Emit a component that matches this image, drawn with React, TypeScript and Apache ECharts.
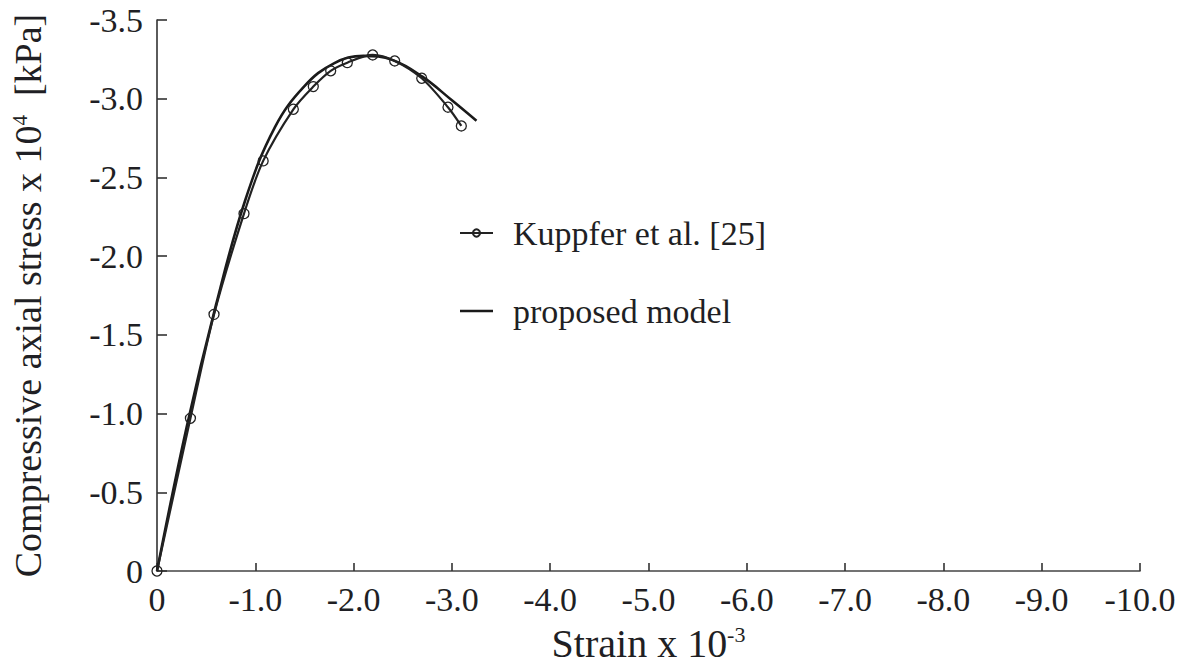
import React, { useEffect, useRef } from "react";
import * as echarts from "echarts";

// Kupfer et al. test data (strain x 10^-3, stress x 10^4 kPa)
const kupferStrain = [0, -0.34, -0.58, -0.885, -1.08, -1.387, -1.59, -1.767, -1.936, -2.194, -2.418, -2.693, -2.96, -3.096];
const kupferStress = [0, -0.97, -1.63, -2.27, -2.605, -2.933, -3.077, -3.177, -3.229, -3.278, -3.24, -3.13, -2.946, -2.827];

// Proposed model curve
const modelStrain = [0, -0.3, -0.6, -0.9, -1.2, -1.5, -1.8, -2.1, -2.4, -2.7, -3.0, -3.25];
const modelStress = [0, -0.91, -1.69, -2.36, -2.82, -3.08, -3.225, -3.272, -3.245, -3.14, -2.99, -2.86];

const xTicks = { min: -10, max: 0, step: 1 };
const yTicks = { min: -3.5, max: 0, step: 0.5 };

const FONT = "Liberation Serif";
const INK = "#1f1f24";
const LINE = "#222222";

export default function App() {
  const ref = useRef<HTMLDivElement>(null);

  useEffect(() => {
    if (!ref.current) return;
    const chart = echarts.init(ref.current, undefined, { renderer: "svg" });
    const fmt = (v: number) => (v === 0 ? "0" : v.toFixed(1));

    chart.setOption({
      animation: false,
      backgroundColor: "#ffffff",
      grid: {
        left: 157,
        right: 43,
        top: 20,
        bottom: 93,
        containLabel: false,
        outerBoundsMode: "none",
      },
      legend: {
        orient: "vertical",
        left: 454,
        top: 211,
        itemWidth: 33,
        itemHeight: 9,
        itemGap: 44,
        symbolKeepAspect: true,
        textStyle: { fontFamily: FONT, fontSize: 34, color: INK, padding: [0, 0, 0, 15] },
        data: [
          { name: "Kuppfer et al. [25]" },
          { name: "proposed model", icon: "path://M0,0 L33,0 L33,2.6 L0,2.6 Z" },
        ],
      },
      xAxis: {
        type: "value",
        min: xTicks.min,
        max: xTicks.max,
        interval: xTicks.step,
        inverse: true,
        name: "{a|Strain x 10}{s|-3}",
        nameLocation: "middle",
        nameGap: 52,
        nameTextStyle: {
          rich: {
            a: { fontFamily: FONT, fontSize: 40, color: INK },
            s: { fontFamily: FONT, fontSize: 22, color: INK, verticalAlign: "top", padding: [0, 0, 16, 0] },
          },
        },
        axisLine: { show: true, lineStyle: { color: "#444", width: 1.6 } },
        axisTick: { show: true, inside: true, length: 8, lineStyle: { color: "#333", width: 1.6 } },
        axisLabel: { formatter: fmt, fontFamily: FONT, fontSize: 34, color: INK, margin: 11 },
        splitLine: { show: false },
      },
      yAxis: {
        type: "value",
        min: yTicks.min,
        max: yTicks.max,
        interval: yTicks.step,
        inverse: true,
        name: "{a|Compressive axial stress x 10}{s|4}{a|  [kPa]}",
        nameLocation: "middle",
        nameGap: 110,
        nameRotate: 90,
        nameTextStyle: {
          rich: {
            a: { fontFamily: FONT, fontSize: 38, color: INK },
            s: { fontFamily: FONT, fontSize: 21, color: INK, verticalAlign: "top", padding: [0, 0, 15, 0] },
          },
        },
        axisLine: { show: true, lineStyle: { color: "#333", width: 1.6 } },
        axisTick: { show: true, inside: true, length: 10, lineStyle: { color: "#333", width: 1.6 } },
        axisLabel: { formatter: fmt, fontFamily: FONT, fontSize: 34, color: INK, margin: 14 },
        splitLine: { show: false },
      },
      series: [
        {
          name: "Kuppfer et al. [25]",
          type: "line",
          data: kupferStrain.map((x, i) => [x, kupferStress[i]]),
          smooth: 0.3,
          symbol: "circle",
          symbolSize: 10,
          showAllSymbol: true,
          lineStyle: { color: LINE, width: 2.2 },
          itemStyle: { color: "rgba(255,255,255,0)", borderColor: LINE, borderWidth: 1.3 },
          z: 3,
        },
        {
          name: "proposed model",
          type: "line",
          data: modelStrain.map((x, i) => [x, modelStress[i]]),
          smooth: 0.4,
          symbol: "none",
          lineStyle: { color: "#1a1a1a", width: 2.6 },
          itemStyle: { color: "#1a1a1a" },
          z: 2,
        },
      ],
    });

    return () => chart.dispose();
  }, []);

  return (
    <div
      ref={ref}
      style={{ position: "fixed", left: 0, top: 0, width: 1183, height: 664 }}
    />
  );
}
